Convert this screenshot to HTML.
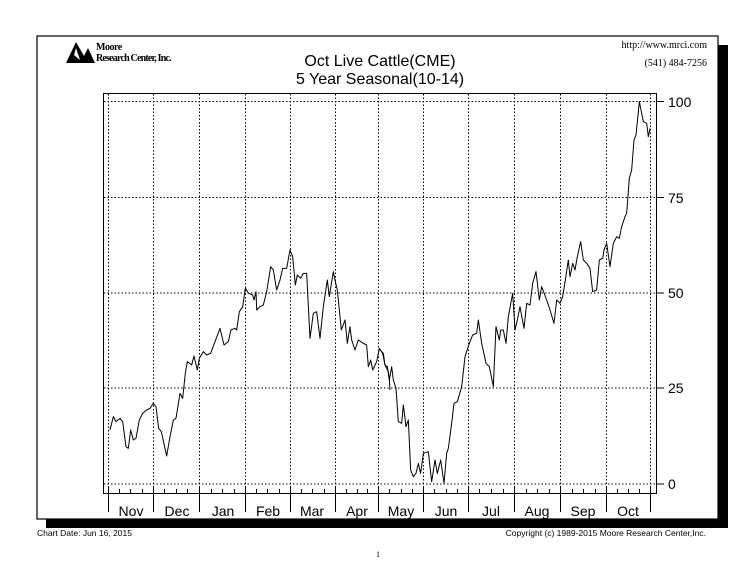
<!DOCTYPE html>
<html><head><style>
body{margin:0;background:#fff;}
svg text{font-family:"Liberation Sans",Arial,sans-serif;}
</style></head><body>
<svg width="748" height="576" viewBox="0 0 748 576" xmlns="http://www.w3.org/2000/svg">
<rect width="748" height="576" fill="#fff"/>
<rect x="718" y="45" width="10" height="483" fill="#000"/>
<rect x="46" y="518" width="682" height="10" fill="#000"/>
<rect x="37" y="36" width="681" height="483" fill="#fff" stroke="#000" stroke-width="1.2"/>
<polygon points="66,63 76,42 84,56 88,48 95,63" fill="#000"/>
<polygon points="74,55 80,60 76,48" fill="#fff"/>
<text x="96" y="50" font-size="10" font-weight="bold" style="font-family:'Liberation Serif',serif;letter-spacing:-0.5px">Moore</text>
<text x="96" y="61" font-size="10" font-weight="bold" style="font-family:'Liberation Serif',serif;letter-spacing:-0.8px">Research Center, Inc.</text>
<text x="380" y="66" font-size="16" text-anchor="middle">Oct Live Cattle(CME)</text>
<text x="380" y="84" font-size="16" text-anchor="middle">5 Year Seasonal(10-14)</text>
<text x="707" y="48" font-size="10" text-anchor="end" style="font-family:'Liberation Serif',serif">http://www.mrci.com</text>
<text x="707" y="66" font-size="10" text-anchor="end" style="font-family:'Liberation Serif',serif">(541) 484-7256</text>
<rect x="103.5" y="93.5" width="553" height="400" fill="none" stroke="#000" stroke-width="1"/>
<g stroke="#000" stroke-width="1" stroke-dasharray="1.5,2" fill="none">
<line x1="104" y1="101.5" x2="656" y2="101.5"/>
<line x1="104" y1="197.5" x2="656" y2="197.5"/>
<line x1="104" y1="293" x2="656" y2="293"/>
<line x1="104" y1="388" x2="656" y2="388"/>
<line x1="104" y1="484" x2="656" y2="484"/>
<line x1="108.5" y1="94" x2="108.5" y2="493"/>
<line x1="153.5" y1="94" x2="153.5" y2="493"/>
<line x1="199.5" y1="94" x2="199.5" y2="493"/>
<line x1="245.5" y1="94" x2="245.5" y2="493"/>
<line x1="290.5" y1="94" x2="290.5" y2="493"/>
<line x1="335.5" y1="94" x2="335.5" y2="493"/>
<line x1="378.5" y1="94" x2="378.5" y2="493"/>
<line x1="423.5" y1="94" x2="423.5" y2="493"/>
<line x1="468.5" y1="94" x2="468.5" y2="493"/>
<line x1="514.5" y1="94" x2="514.5" y2="493"/>
<line x1="560.5" y1="94" x2="560.5" y2="493"/>
<line x1="606.5" y1="94" x2="606.5" y2="493"/>
<line x1="650.5" y1="94" x2="650.5" y2="493"/>
</g>
<g stroke="#000" stroke-width="1">
<path d="M108.5,487V512 M153.5,487V512 M199.5,487V512 M245.5,487V512 M290.5,487V512 M335.5,487V512 M378.5,487V512 M423.5,487V512 M468.5,487V512 M514.5,487V512 M560.5,487V512 M606.5,487V512 M650.5,487V512"/>
<path d="M119.5,489V493 M130.5,489V493 M142.5,489V493 M164.5,489V493 M176.5,489V493 M187.5,489V493 M211.5,489V493 M222.5,489V493 M234.5,489V493 M256.5,489V493 M267.5,489V493 M279.5,489V493 M301.5,489V493 M312.5,489V493 M324.5,489V493 M346.5,489V493 M357.5,489V493 M367.5,489V493 M389.5,489V493 M401.5,489V493 M412.5,489V493 M434.5,489V493 M446.5,489V493 M457.5,489V493 M479.5,489V493 M491.5,489V493 M503.5,489V493 M526.5,489V493 M537.5,489V493 M549.5,489V493 M572.5,489V493 M583.5,489V493 M595.5,489V493 M617.5,489V493 M628.5,489V493 M639.5,489V493"/>
<path d="M657,101.5H664 M657,197.5H664 M657,293H664 M657,388H664 M657,484H664"/>
</g>
<g font-size="14">
<text x="668" y="107">100</text><text x="668" y="203">75</text><text x="668" y="298">50</text><text x="668" y="393">25</text><text x="668" y="489">0</text>
</g>
<g font-size="14" text-anchor="middle">
<text x="131" y="516">Nov</text><text x="177" y="516">Dec</text><text x="223" y="516">Jan</text><text x="268" y="516">Feb</text><text x="312" y="516">Mar</text><text x="357" y="516">Apr</text><text x="401" y="516">May</text><text x="446" y="516">Jun</text><text x="491" y="516">Jul</text><text x="537" y="516">Aug</text><text x="583" y="516">Sep</text><text x="628" y="516">Oct</text>
</g>
<g fill="none" stroke="#000" stroke-width="1" stroke-linejoin="round">
<polyline transform="translate(100,230) scale(0.33333)" style="vector-effect:non-scaling-stroke" points="30,600 40,560 48,575 60,565 68,575 78,650 85,655 92,600 100,630 108,625 118,570 128,550 140,540 150,535 160,520 168,530 176,595 184,605 200,678 210,620 220,570 228,565 240,490 248,505 256,430 262,395 275,405 282,378 292,420 298,385 310,365 320,375 332,370 345,335 360,295 372,345 385,335 393,300 405,295 410,300 418,245 428,230 436,175 446,190 458,195 462,210 468,185 470,240 480,230 490,225 500,185 512,110 520,120 530,180 540,150 548,115 560,115 570,60 578,80 586,165 592,135 602,145 610,130 620,130 630,325 640,250 650,245 660,325 670,230 682,150 688,200 700,125 705,150 712,180 724,300 735,270 742,340 750,290 755,330 765,360 775,330 790,340 800,345 805,410 812,390 818,420 830,395 838,355 848,370 855,405 865,425 868,450 870,480"/>
<polyline transform="translate(380,90) scale(0.33333)" style="vector-effect:non-scaling-stroke" points="0,780 10,790 15,825 22,830 28,870 35,830 40,870 48,895 55,995 65,1000 70,945 78,1010 85,990 92,1140 100,1160 108,1150 115,1120 122,1150 130,1090 145,1085 155,1175 165,1110 172,1150 182,1110 192,1180 200,1090 205,1075 215,1000 222,940 232,935 245,890 255,800 268,760 278,735 290,730 295,690 305,760 318,820 328,830 340,890 348,710 358,750 362,720 370,720 378,760 385,680 398,610 405,720 412,690 420,650 432,715 440,640 450,645 458,580 468,545 478,630 485,590 500,630 510,660 522,700 530,630 540,640 548,620 556,570 565,510 570,560 578,520 585,540 592,500 602,455 610,510 620,520 630,535 638,605 650,600 658,510 668,505 672,480 680,460 690,530 700,460 710,440 718,445 725,410 735,380 740,370 748,265 755,240 762,150 768,135 778,35 790,95 800,100 805,140 810,115"/>
</g>
<text x="37" y="536" font-size="8.5">Chart Date: Jun 16, 2015</text>
<text x="706" y="536" font-size="8.5" text-anchor="end">Copyright (c) 1989-2015 Moore Research Center,Inc.</text>
<text x="376" y="557" font-size="8" style="font-family:'Liberation Serif',serif">1</text>
</svg>
</body></html>
